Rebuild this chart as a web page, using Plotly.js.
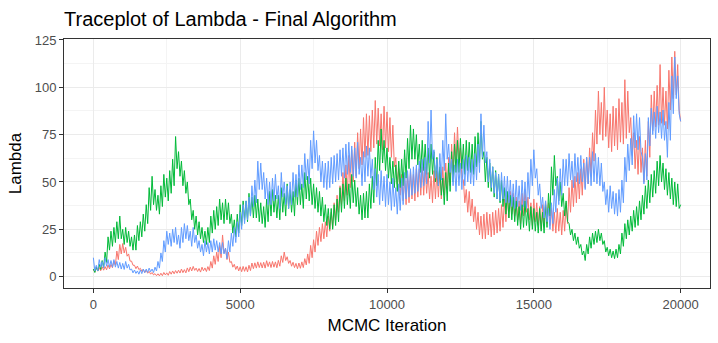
<!DOCTYPE html>
<html>
<head>
<meta charset="utf-8">
<script src="https://cdn.plot.ly/plotly-3.0.1.min.js"></script>
<style>
  html, body { margin: 0; padding: 0; background: #ffffff; }
  #chart { width: 718px; height: 343px; }
</style>
</head>
<body>
<div id="chart"></div>
<script>
// thinned traces, one value every 50 MCMC iterations (read off the picture,
// alternating top / bottom of the noise band)
const thin = 50;

const chain1 = [
  3.8, 2.4, 4.6, 2.9, 4.8, 3.1, 5.2, 3.4, 5.3, 3.6, 6.2, 4.1, 6.4, 4.7, 8.2, 6, 13.5, 9, 17, 12,
  17.5, 12.5, 15.5, 10.8, 12, 8.2, 8.2, 6, 6, 4.2, 5.6, 3.7, 4.4, 2.8, 3.9, 2.2, 3.3, 1.8, 2.8, 1.3,
  2.2, 0.9, 1.6, 0.5, 1.5, 0.4, 1.8, 0.5, 2.2, 0.9, 2, 0.7, 2.7, 1.3, 3, 1.5, 3.2, 1.8, 3.4, 1.9,
  4, 2.1, 3.7, 2, 4.6, 2.6, 5, 3, 5.4, 3.3, 4.5, 2.7, 4.3, 2.4, 5, 3.1, 4.6, 2.7, 5.3, 3.2,
  8, 4.5, 11, 6.5, 13, 8, 16.5, 10, 22, 12.5, 15, 9, 13, 7.5, 8, 5, 6.5, 3.8, 5.6, 3,
  5.2, 2.6, 5.4, 2.8, 5.2, 2.5, 6, 3.2, 7.2, 4.2, 7.3, 4.5, 7.8, 4.8, 7.4, 4.6, 7.6, 4.5, 8.4, 5.3,
  7.8, 4.8, 8, 5, 7.8, 4.7, 8.6, 5.5, 11, 7.5, 13, 8.5, 10.5, 7, 8.5, 5.5, 7.6, 4.8, 7, 4.2,
  7.2, 4.4, 7.8, 4.8, 9.5, 6.2, 12, 7, 16.5, 10, 19.5, 13, 24, 16.5, 26, 18.5, 28, 20, 29, 21,
  32, 24, 34, 26, 39, 30, 43, 34, 48, 38, 55, 40, 59, 43, 64, 47, 67, 50, 71, 53,
  76, 57, 78, 59, 84, 63, 86, 64, 85, 66, 88, 68, 93, 70, 89, 69, 86, 67, 90, 68,
  87, 66, 84, 63, 80, 58, 63, 49, 57, 43, 54, 40, 53, 38, 54, 39, 56, 41, 54, 40,
  57, 42, 57, 43, 58, 43, 58, 44, 55, 41, 53, 39, 56, 41, 56, 42, 55, 41, 58, 43,
  60, 46, 63, 48, 70, 55, 76, 60, 79, 62, 68, 52, 51, 39, 46, 34, 45, 32, 41, 29,
  37, 25, 34, 22, 32, 20, 33, 20, 34, 22, 33, 21, 34, 22, 35, 23, 36, 24, 38, 26,
  41, 29, 43, 31, 45, 33, 44, 32, 42, 30, 40, 28, 44, 32, 46, 34, 42, 30, 39, 27,
  41, 29, 39, 27, 37, 25, 38, 26, 40, 28, 39, 27, 36, 24, 34, 23, 36, 24, 34, 22,
  35, 24, 39, 28, 47, 34, 51, 37, 53, 39, 55, 41, 57, 43, 62, 47, 63, 49, 68, 53,
  76, 61, 88, 70, 98, 75, 92, 72, 100, 74, 88, 68, 86, 66, 90, 69, 89, 67, 94, 71,
  92, 70, 104, 73, 98, 76, 84, 64, 76, 57, 72, 54, 74, 55, 68, 50, 72, 53, 82, 63,
  96, 77, 98, 79, 101, 80, 112, 81, 100, 80, 98, 78, 109, 88, 116, 94, 119, 96, 112, 88,
  82
];

const chain2 = [
  4, 2.2, 5.2, 3, 6.5, 3.8, 8.5, 5, 13, 7.5, 21, 14, 24, 16, 26, 18, 29, 20, 32, 20,
  25, 17, 26, 18, 24, 16, 21, 14, 22, 14, 27, 19, 29, 21, 33, 24, 38, 28, 47, 35,
  53, 38, 46, 35, 43, 33, 48, 37, 54, 42, 52, 40, 56, 44, 62, 48, 74, 57, 66, 53,
  61, 48, 56, 44, 50, 38, 41, 30, 35, 25, 32, 22, 29, 20, 26, 18, 24, 17, 26, 18,
  32, 23, 35, 25, 37, 27, 41, 30, 39, 28, 41, 30, 39, 28, 33, 23, 30, 21, 33, 23,
  38, 27, 40, 30, 40, 29, 44, 32, 42, 31, 43, 31, 41, 29, 39, 28, 37, 26, 41, 29,
  45, 32, 46, 34, 43, 31, 43, 30, 47, 34, 44, 32, 49, 36, 46, 34, 45, 32, 51, 38,
  52, 38, 49, 36, 55, 41, 53, 40, 52, 38, 49, 36, 47, 34, 45, 32, 42, 29, 38, 27,
  36, 25, 36, 25, 38, 27, 41, 29, 47, 34, 49, 36, 52, 38, 49, 36, 54, 39, 51, 37,
  47, 33, 43, 30, 44, 31, 45, 31, 49, 36, 53, 39, 63, 48, 72, 56, 78, 60, 72, 56,
  68, 52, 63, 49, 61, 47, 59, 45, 61, 47, 62, 48, 67, 52, 73, 57, 80, 62, 78, 62,
  75, 59, 70, 55, 72, 56, 70, 54, 68, 52, 70, 54, 66, 50, 63, 48, 58, 43, 52, 38,
  55, 40, 60, 45, 66, 50, 70, 55, 72, 55, 73, 57, 70, 54, 72, 56, 71, 55, 70, 54,
  74, 58, 76, 60, 82, 62, 66, 50, 63, 47, 60, 45, 58, 42, 56, 41, 54, 39, 51, 37,
  47, 33, 45, 31, 43, 30, 42, 29, 40, 27, 37, 25, 38, 26, 40, 27, 36, 24, 37, 25,
  36, 24, 34, 23, 36, 24, 34, 23, 38, 26, 44, 32, 58, 43, 64, 48, 53, 40, 50, 37,
  44, 32, 40, 29, 28, 22, 25, 19, 23, 17, 21, 15, 17, 11.5, 13.5, 8.5, 17, 12, 21, 15,
  23, 17, 24, 18, 25, 19, 23, 17, 19, 13, 15.5, 11, 14.5, 10, 13.5, 9.5, 14.5, 10, 17, 12,
  23, 16, 28, 20, 30, 22, 32, 24, 35, 26, 37, 27, 40, 30, 43, 33, 48, 36, 51, 39,
  54, 42, 56, 44, 61, 48, 64, 50, 60, 46, 57, 43, 55, 41, 52, 38, 50, 37, 49, 36,
  38
];

const chain3 = [
  10, 3, 6, 3, 9, 5, 8, 4.5, 10, 5.5, 9, 5, 8.5, 5, 9, 5, 8, 4.5, 7.5, 4,
  7, 3.8, 8, 4.5, 6.5, 3.5, 4, 2, 3.5, 1.7, 3, 1.3, 3.5, 1.6, 4, 2.1, 4, 2.2, 4.5, 2.6,
  4, 2.2, 5, 3, 8, 4.5, 12.5, 8, 19, 13, 24, 17, 23, 16, 25, 18, 26, 17, 22, 15,
  26, 18, 28, 20, 27, 19, 24, 16, 26, 18, 22, 15, 19, 13, 17, 11, 19, 13, 18, 12,
  19, 13, 20, 14, 19, 13, 18, 12, 18, 12, 15, 9.5, 19, 13, 23, 16, 26, 18, 29, 21,
  34, 25, 38, 28, 40, 30, 42, 32, 48, 37, 51, 39, 61, 46, 60, 46, 55, 41, 52, 38,
  50, 38, 52, 40, 54, 41, 48, 36, 55, 42, 50, 38, 48, 36, 50, 38, 55, 42, 54, 42,
  59, 46, 59, 47, 65, 51, 62, 49, 72, 57, 77, 60, 72, 56, 64, 50, 61, 47, 60, 46,
  61, 47, 63, 49, 64, 50, 65, 51, 67, 53, 68, 52, 70, 54, 71, 55, 69, 53, 68, 52,
  71, 54, 63, 48, 66, 50, 69, 53, 68, 52, 62, 46, 57, 42, 54, 38, 56, 40, 53, 37,
  54, 38, 50, 35, 52, 37, 47, 33, 49, 35, 52, 38, 55, 41, 56, 42, 57, 43, 58, 44,
  59, 45, 61, 47, 62, 48, 63, 49, 82, 60, 88, 62, 67, 52, 62, 48, 65, 51, 72, 56,
  86, 62, 70, 55, 62, 48, 59, 45, 62, 48, 60, 46, 62, 48, 64, 50, 63, 49, 62, 48,
  65, 51, 70, 55, 86, 63, 80, 60, 66, 50, 62, 47, 58, 44, 55, 41, 54, 40, 55, 41,
  53, 39, 53, 39, 51, 37, 49, 36, 51, 37, 48, 35, 51, 37, 50, 36, 55, 41, 62, 48,
  67, 52, 57, 43, 49, 36, 42, 31, 40, 29, 36, 25, 39, 28, 46, 34, 52, 38, 57, 43,
  62, 48, 62, 48, 65, 51, 61, 47, 65, 50, 63, 49, 64, 50, 60, 46, 63, 49, 63, 48,
  66, 50, 65, 49, 63, 48, 60, 45, 50, 38, 46, 34, 48, 36, 45, 33, 44, 32, 46, 34,
  51, 39, 63, 50, 70, 56, 73, 59, 85, 68, 86, 67, 84, 66, 63, 49, 65, 51, 84, 69,
  89, 75, 87, 73, 90, 76, 87, 73, 88, 72, 82, 63, 92, 72, 106, 86, 116, 94, 106, 86,
  82
];

const iterations = chain1.map((v, i) => i * thin);

const colors = ["#F8766D", "#00BA38", "#619CFF"];
const chains = [chain1, chain2, chain3];

const traces = chains.map((vals, k) => ({
  x: iterations,
  y: vals,
  type: "scatter",
  mode: "lines",
  line: { color: colors[k], width: 1 },
  hoverinfo: "skip"
}));

const axisCommon = {
  showline: true,
  mirror: true,
  linecolor: "#333333",
  linewidth: 1,
  ticks: "outside",
  ticklen: 4,
  tickcolor: "#333333",
  tickwidth: 1,
  zeroline: false,
  showgrid: true,
  gridcolor: "#EBEBEB",
  gridwidth: 1,
  tickfont: { family: "Liberation Sans, Arial, sans-serif", size: 13, color: "#4D4D4D" }
};

const layout = {
  width: 718,
  height: 343,
  paper_bgcolor: "#ffffff",
  plot_bgcolor: "#ffffff",
  showlegend: false,
  margin: { l: 64, r: 8, t: 39, b: 55, pad: 0 },
  font: { family: "Liberation Sans, Arial, sans-serif", color: "#000000" },
  title: {
    text: "Traceplot of Lambda - Final Algorithm",
    font: { family: "Liberation Sans, Arial, sans-serif", size: 20, color: "#000000" },
    xref: "container", x: 64 / 718, xanchor: "left",
    yref: "container", y: 1 - 19 / 343, yanchor: "middle"
  },
  xaxis: Object.assign({}, axisCommon, {
    range: [-1000, 21000],
    tickvals: [0, 5000, 10000, 15000, 20000],
    ticktext: ["0", "5000", "10000", "15000", "20000"],
    minor: { tickvals: [2500, 7500, 12500, 17500], showgrid: true, gridcolor: "#F4F4F4", gridwidth: 1, ticks: "" },
    title: { text: "MCMC Iteration", font: { size: 17, color: "#000000" }, standoff: 8 }
  }),
  yaxis: Object.assign({}, axisCommon, {
    range: [-6.0, 125.5],
    tickvals: [0, 25, 50, 75, 100, 125],
    minor: { tickvals: [12.5, 37.5, 62.5, 87.5, 112.5], showgrid: true, gridcolor: "#F4F4F4", gridwidth: 1, ticks: "" },
    title: { text: "Lambda", font: { size: 17, color: "#000000" }, standoff: 8 }
  })
};

Plotly.newPlot("chart", traces, layout, { staticPlot: true, displayModeBar: false });
</script>
</body>
</html>
